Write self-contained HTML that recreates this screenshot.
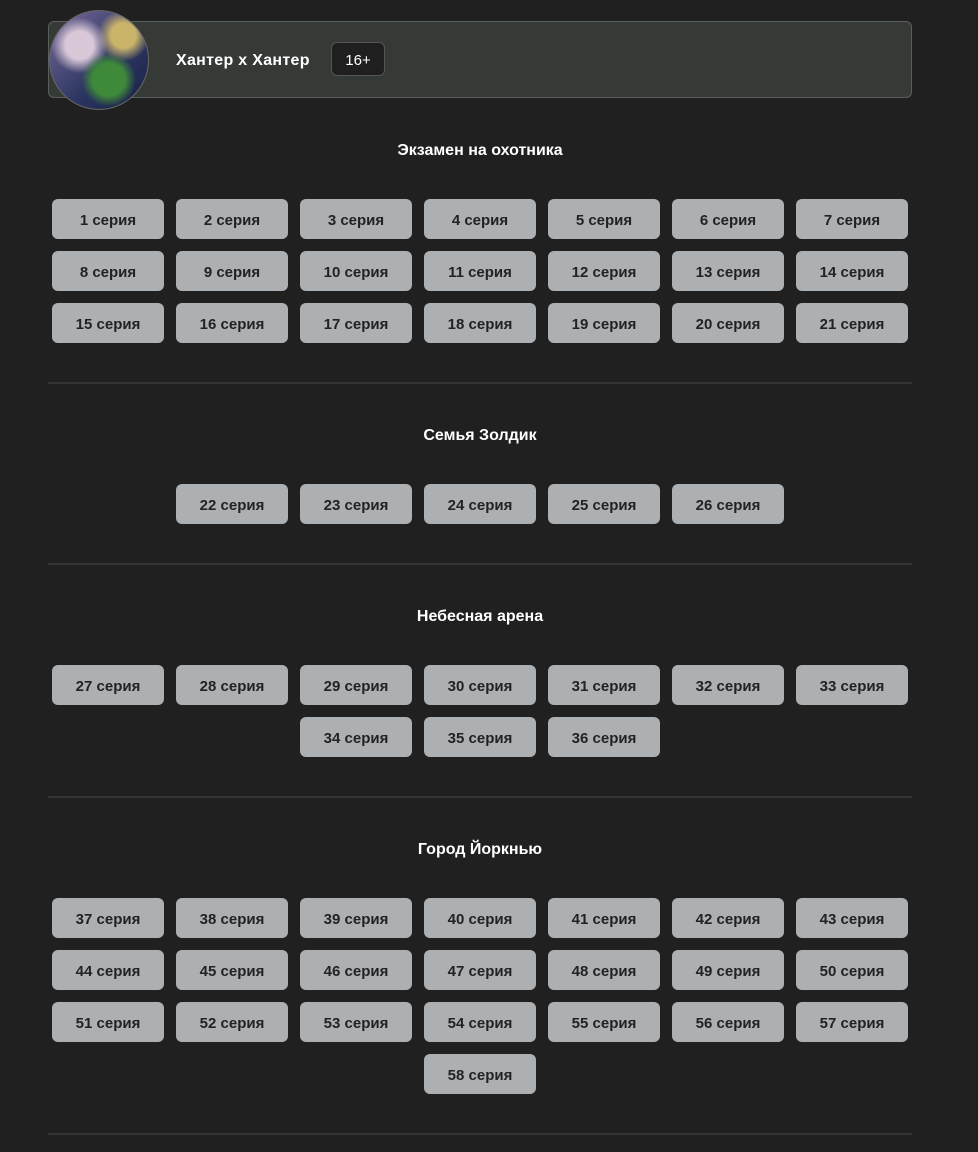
<!DOCTYPE html>
<html><head><meta charset="utf-8"><style>
body{margin:0;background:#202020;width:978px;height:1152px;position:relative;overflow:hidden;font-family:"Liberation Sans","DejaVu Sans",sans-serif}
.hdr{position:absolute;left:48px;top:21px;width:862px;height:75px;background:#363a36;border:1px solid #5b5f5b;border-radius:6px}
.av{position:absolute;left:49px;top:10px;width:100px;height:100px;border-radius:50%;border:1px solid #666;box-sizing:border-box;
background:radial-gradient(circle at 60% 70%,#3f8a3a 0 18%,transparent 30%),radial-gradient(circle at 30% 35%,#d8c8d8 0 15%,transparent 30%),radial-gradient(circle at 75% 25%,#c9b46a 0 12%,transparent 25%),linear-gradient(135deg,#7a6a9a,#2a3560 60%,#1a2040)}
.ttl{position:absolute;left:176px;top:52px;color:#fff;font-weight:bold;font-size:16px;letter-spacing:0.3px}
.badge{position:absolute;left:331px;top:42px;width:52px;height:32px;border:1px solid #555;border-radius:6px;background:#1f1f1f;color:#fff;font-size:15px;text-align:center;line-height:36px}
.st{position:absolute;left:48px;width:864px;text-align:center;color:#fff;font-weight:bold;font-size:16px}
.b{position:absolute;width:112px;height:40px;background:#adb0b3;border-radius:6px;color:#222;font-weight:bold;font-size:15px;text-align:center;line-height:44px}
.hr{position:absolute;left:48px;width:864px;height:2px;background:#343434}
</style></head><body>
<div class="hdr"></div>
<div class="av"></div>
<div class="ttl">Хантер х Хантер</div>
<div class="badge">16+</div>
<div id="c"></div>
<script>
var c=document.getElementById('c'),h='';
function t(y,s){h+='<div class="st" style="top:'+(y-7)+'px">'+s+'</div>';}
function row(y,nums){var n=nums.length,x0=48+(864-(n*112+(n-1)*12))/2;nums.forEach(function(k,i){h+='<div class="b" style="left:'+(x0+i*124)+'px;top:'+y+'px">'+k+' серия</div>';});}
function r(a,b){var o=[];for(var i=a;i<=b;i++)o.push(i);return o;}
function hr(y){h+='<div class="hr" style="top:'+y+'px"></div>';}
t(149,'Экзамен на охотника');row(199,r(1,7));row(251,r(8,14));row(303,r(15,21));hr(382);
t(434,'Семья Золдик');row(484,r(22,26));hr(563);
t(615,'Небесная арена');row(665,r(27,33));row(717,r(34,36));hr(796);
t(848,'Город Йоркнью');row(898,r(37,43));row(950,r(44,50));row(1002,r(51,57));row(1054,[58]);hr(1133);
c.innerHTML=h;
</script>
</body></html>
